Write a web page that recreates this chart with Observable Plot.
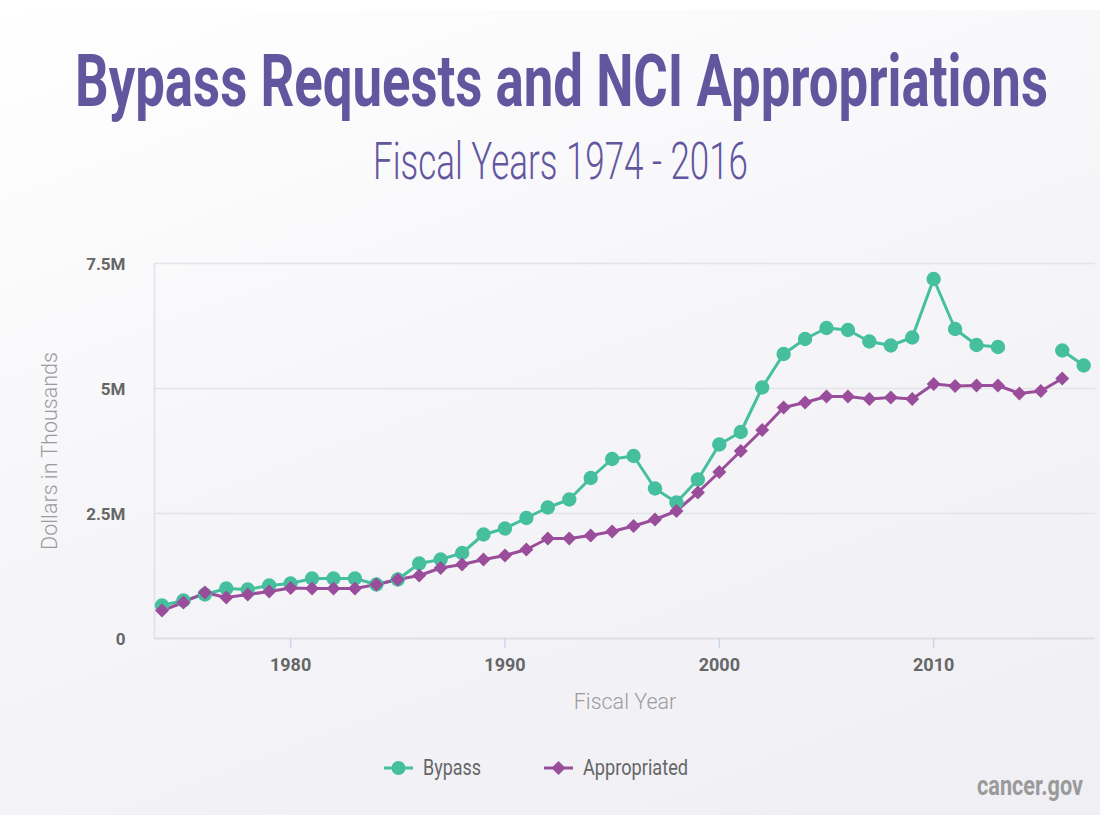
<!DOCTYPE html>
<html>
<head>
<meta charset="utf-8">
<script src="https://cdn.jsdelivr.net/npm/d3@7"></script>
<script src="https://cdn.jsdelivr.net/npm/@observablehq/plot@0.6"></script>
<style>
  html, body { margin: 0; padding: 0; background: #fff; }
  #page { position: relative; width: 1103px; height: 815px; overflow: hidden; background: #fff; font-family: Roboto, "DejaVu Sans", sans-serif; }
  #bg { position: absolute; left: 0; top: 10px; width: 1100px; height: 805px; background: linear-gradient(160deg, #ffffff 0%, #f6f6f9 45%, #efeff4 100%); }
  .fit { position: absolute; white-space: nowrap; line-height: 1; transform-origin: 0 0; }
  #chart { position: absolute; left: 0; top: 240px; }
  .sw { position: absolute; }
</style>
</head>
<body>
<div id="page">
  <div id="bg"></div>
  <div id="chart"></div>
</div>
<script>
// ---------- data ----------
const years = [1974,1975,1976,1977,1978,1979,1980,1981,1982,1983,1984,1985,1986,1987,1988,1989,1990,1991,1992,1993,1994,1995,1996,1997,1998,1999,2000,2001,2002,2003,2004,2005,2006,2007,2008,2009,2010,2011,2012,2013,2014,2015,2016,2017];
// values in thousands of dollars
const bypass = [660000,760000,880000,1000000,980000,1060000,1100000,1200000,1200000,1200000,1080000,1180000,1500000,1580000,1710000,2080000,2200000,2410000,2620000,2780000,3210000,3590000,3650000,3000000,2720000,3180000,3880000,4130000,5020000,5690000,5990000,6210000,6170000,5940000,5860000,6020000,7190000,6190000,5870000,5830000,null,null,5760000,5460000];
const appropriated = [560000,720000,920000,820000,880000,940000,1010000,1000000,1000000,1000000,1080000,1180000,1260000,1410000,1480000,1580000,1660000,1780000,2000000,2000000,2060000,2140000,2250000,2380000,2550000,2920000,3330000,3750000,4170000,4620000,4720000,4840000,4840000,4790000,4820000,4790000,5090000,5050000,5060000,5060000,4900000,4950000,5200000,null];
const seriesNames = ["Bypass", "Appropriated"];
const seriesColors = ["#45bf9e", "#9a4d9b"];
const seriesSymbols = ["circle", "diamond2"];
const xTicks = [1980, 1990, 2000, 2010];
const yTicks = [0, 2500000, 5000000, 7500000];
const yTickLabels = ["0", "2.5M", "5M", "7.5M"];
const titleText = "Bypass Requests and NCI Appropriations";
const subtitleText = "Fiscal Years 1974 - 2016";
const xLabel = "Fiscal Year";
const yLabel = "Dollars in Thousands";
const creditText = "cancer.gov";

// ---------- build rows ----------
const rows = [];
years.forEach((yr, i) => {
  rows.push({year: yr, value: bypass[i] == null ? NaN : bypass[i], series: seriesNames[0]});
  rows.push({year: yr, value: appropriated[i] == null ? NaN : appropriated[i], series: seriesNames[1]});
});

const xDomain = [1973.65, 2017.55];

const chart = Plot.plot({
  width: 1103,
  height: 480,
  marginLeft: 154,
  marginRight: 8,
  marginTop: 23,
  marginBottom: 82,
  style: {background: "transparent", fontFamily: "Roboto, 'DejaVu Sans', sans-serif", overflow: "visible"},
  x: {domain: xDomain, label: null},
  y: {domain: [0, 7500000], label: null},
  color: {domain: seriesNames, range: seriesColors},
  symbol: {domain: seriesNames, range: seriesSymbols},
  marks: [
    Plot.ruleY(yTicks.slice(1), {stroke: "#e3e3e8", strokeWidth: 1.5}),
    Plot.ruleX([xDomain[0]], {stroke: "#e0e0e5", strokeWidth: 1.5}),
    Plot.ruleY([0], {stroke: "#dedee3", strokeWidth: 2}),
    Plot.axisX({ticks: xTicks, tickFormat: d => String(d), tickSize: 10, tickPadding: 10, stroke: "#ccd6eb", strokeWidth: 1.5, fill: "#666", fontSize: 18, fontWeight: "bold", label: null}),
    Plot.axisY({ticks: yTicks, tickFormat: d => yTickLabels[yTicks.indexOf(d)], tickSize: 0, tickPadding: 29, fill: "#666", fontSize: 17, fontWeight: "bold", dy: 1, label: null}),
    Plot.text([yLabel], {frameAnchor: "left", dx: -104, rotate: -90, textAnchor: "middle", lineAnchor: "middle", fill: "#9b9b9b", fontSize: 21.5, fontWeight: 300}),
    Plot.text([xLabel], {frameAnchor: "bottom", dy: 64, textAnchor: "middle", lineAnchor: "middle", fill: "#9b9b9b", fontSize: 21.5, fontWeight: 300}),
    Plot.line(rows, {x: "year", y: "value", z: "series", stroke: "series", strokeWidth: 3}),
    Plot.dot(rows.filter(d => d.series === seriesNames[0]), {x: "year", y: "value", fill: "series", symbol: "series", r: 7.2, stroke: "none"}),
    Plot.dot(rows.filter(d => d.series === seriesNames[1]), {x: "year", y: "value", fill: "series", symbol: "series", r: 6.3, stroke: "none"})
  ]
});
document.getElementById("chart").appendChild(chart);

// ---------- HTML text helpers ----------
const page = document.getElementById("page");
function placeText(text, {left, width, baseline, size, weight, color, family}) {
  const el = document.createElement("div");
  el.className = "fit";
  el.style.fontSize = size + "px";
  el.style.fontWeight = weight;
  el.style.color = color;
  if (family) el.style.fontFamily = family;
  el.textContent = text;
  const probe = document.createElement("span");
  probe.style.cssText = "display:inline-block;width:0;height:0;vertical-align:baseline";
  el.appendChild(probe);
  el.style.left = left + "px";
  el.style.top = "0px";
  page.appendChild(el);
  const w = el.getBoundingClientRect().width;
  const b = probe.offsetTop;
  el.style.top = (baseline - b) + "px";
  el.style.transform = `scaleX(${width / w})`;
  return el;
}

placeText(titleText, {left: 75, width: 973, baseline: 106, size: 73, weight: 700, color: "#62569f"});
placeText(subtitleText, {left: 373, width: 375, baseline: 179, size: 52, weight: 300, color: "#62569f"});

// legend
const legendItems = [
  {name: seriesNames[0], color: seriesColors[0], sym: seriesSymbols[0], x0: 384, textLeft: 423, textWidth: 58},
  {name: seriesNames[1], color: seriesColors[1], sym: seriesSymbols[1], x0: 544, textLeft: 583, textWidth: 105}
];
legendItems.forEach(it => {
  const ns = "http://www.w3.org/2000/svg";
  const svg = document.createElementNS(ns, "svg");
  svg.setAttribute("width", 30);
  svg.setAttribute("height", 20);
  svg.setAttribute("class", "sw");
  svg.style.left = it.x0 + "px";
  svg.style.top = "758px";
  const line = document.createElementNS(ns, "line");
  line.setAttribute("x1", 0); line.setAttribute("x2", 29);
  line.setAttribute("y1", 10); line.setAttribute("y2", 10);
  line.setAttribute("stroke", it.color); line.setAttribute("stroke-width", 3);
  svg.appendChild(line);
  const sym = it.sym === "circle" ? d3.symbolCircle : d3.symbolDiamond2;
  const size = it.sym === "circle" ? Math.PI * 7 * 7 : Math.PI * 6.3 * 6.3;
  const p = document.createElementNS(ns, "path");
  p.setAttribute("d", d3.symbol(sym, size)());
  p.setAttribute("transform", "translate(14.5,10)");
  p.setAttribute("fill", it.color);
  svg.appendChild(p);
  page.appendChild(svg);
  placeText(it.name, {left: it.textLeft, width: it.textWidth, baseline: 775, size: 22, weight: 400, color: "#666"});
});

placeText(creditText, {left: 977, width: 106, baseline: 795, size: 28, weight: 700, color: "#9a9a9a"});
</script>
</body>
</html>
